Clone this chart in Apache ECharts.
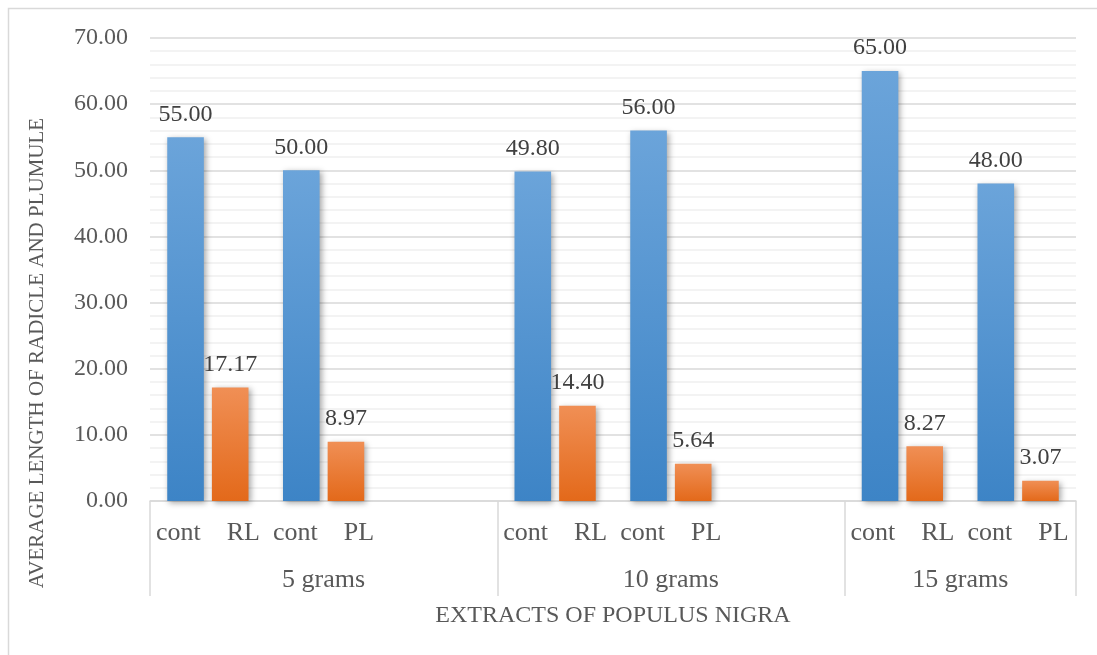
<!DOCTYPE html>
<html>
<head>
<meta charset="utf-8">
<title>Average length of radicle and plumule</title>
<script src="https://cdn.jsdelivr.net/npm/echarts@6/dist/echarts.min.js"></script>
<style>
  html, body { margin: 0; padding: 0; background: #ffffff; }
  #chart { width: 1097px; height: 655px; }
</style>
</head>
<body>
<div id="chart"></div>
<script>
// Category slots along the x axis (blank slots separate the extract groups)
const categories = ['cont    RL', 'cont    PL', '', 'cont    RL', 'cont    PL', '', 'cont    RL', 'cont    PL'];
// Control lengths (blue) and treated radicle / plumule lengths (orange)
const controlValues = [55.00, 50.00, null, 49.80, 56.00, null, 65.00, 48.00];
const treatedValues = [17.17, 8.97, null, 14.40, 5.64, null, 8.27, 3.07];
// Extract dose groups: label, centre position and boundaries on the slot scale
const groupLabels = ['5 grams', '10 grams', '15 grams'];
const groupCentres = [1.5, 4.5, 7];
const groupBounds = [0, 3, 6, 8];
// Y axis tick range
const yMin = 0, yMax = 70, yStep = 10;

const FONT = '"Liberation Serif", "Times New Roman", serif';
const TEXT = '#595959';
const GRID_LINE = '#d9d9d9';

const chart = echarts.init(document.getElementById('chart'), null, { renderer: 'canvas' });

function gradient(top, bottom) {
  return new echarts.graphic.LinearGradient(0, 0, 0, 1, [
    { offset: 0, color: top },
    { offset: 1, color: bottom }
  ]);
}

const labelStyle = {
  show: true,
  position: 'top',
  distance: 11,
  fontFamily: FONT,
  fontSize: 24,
  color: '#404040',
  formatter: p => (p.value == null ? '' : Number(p.value).toFixed(2))
};

const barShadow = {
  shadowBlur: 6,
  shadowColor: 'rgba(0,0,0,0.35)',
  shadowOffsetX: 2,
  shadowOffsetY: 2
};

chart.setOption({
  animation: false,
  backgroundColor: '#ffffff',
  grid: { left: 150, right: 21, top: 38, bottom: 154, containLabel: false },
  graphic: [
    {
      type: 'rect',
      shape: { x: 8.5, y: 8.5, width: 1200, height: 800 },
      style: { fill: 'none', stroke: '#d9d9d9', lineWidth: 1.5 },
      silent: true, z: -10
    },
    {
      type: 'text',
      x: 37, y: 353,
      rotation: Math.PI / 2,
      style: {
        text: 'AVERAGE LENGTH OF RADICLE AND PLUMULE',
        fontFamily: FONT, fontSize: 21, fill: TEXT,
        textAlign: 'center', textVerticalAlign: 'middle'
      }
    }
  ],
  xAxis: [
    {
      type: 'category',
      data: categories,
      position: 'bottom',
      axisLine: { show: true, lineStyle: { color: GRID_LINE, width: 1.5 } },
      axisTick: { show: false },
      axisLabel: {
        interval: 0, margin: 19,
        fontFamily: FONT, fontSize: 26, color: TEXT
      },
      splitLine: { show: false },
      name: 'EXTRACTS OF POPULUS NIGRA',
      nameLocation: 'middle',
      nameGap: 103,
      nameTextStyle: { fontFamily: FONT, fontSize: 24, color: TEXT }
    },
    {
      // Second label row: dose groups with separator lines
      type: 'value',
      min: 0, max: 8,
      position: 'bottom',
      axisLine: { show: false },
      axisTick: {
        show: true,
        customValues: groupBounds,
        length: 95,
        lineStyle: { color: GRID_LINE, width: 1.5 }
      },
      axisLabel: {
        show: true,
        customValues: groupCentres,
        margin: 66,
        fontFamily: FONT, fontSize: 26, color: TEXT,
        formatter: v => groupLabels[groupCentres.indexOf(v)] || ''
      },
      splitLine: { show: false }
    }
  ],
  yAxis: {
    type: 'value',
    min: yMin, max: yMax, interval: yStep,
    axisLine: { show: false },
    axisTick: { show: false },
    axisLabel: {
      margin: 22,
      fontFamily: FONT, fontSize: 24, color: TEXT,
      formatter: v => v.toFixed(2)
    },
    splitLine: { show: true, lineStyle: { color: GRID_LINE, width: 1.5 } },
    minorTick: { show: false, splitNumber: 5 },
    minorSplitLine: { show: true, lineStyle: { color: '#efefef', width: 1.5 } }
  },
  series: [
    {
      name: 'cont',
      type: 'bar',
      xAxisIndex: 0,
      data: controlValues,
      barWidth: 36.6,
      barGap: '22%',
      itemStyle: Object.assign({ color: gradient('#6ba4da', '#3d84c6') }, barShadow),
      label: labelStyle
    },
    {
      name: 'treated',
      type: 'bar',
      xAxisIndex: 0,
      data: treatedValues,
      barWidth: 36.6,
      barGap: '22%',
      itemStyle: Object.assign({ color: gradient('#f08f55', '#e3691a') }, barShadow),
      label: labelStyle
    }
  ]
});
</script>
</body>
</html>
